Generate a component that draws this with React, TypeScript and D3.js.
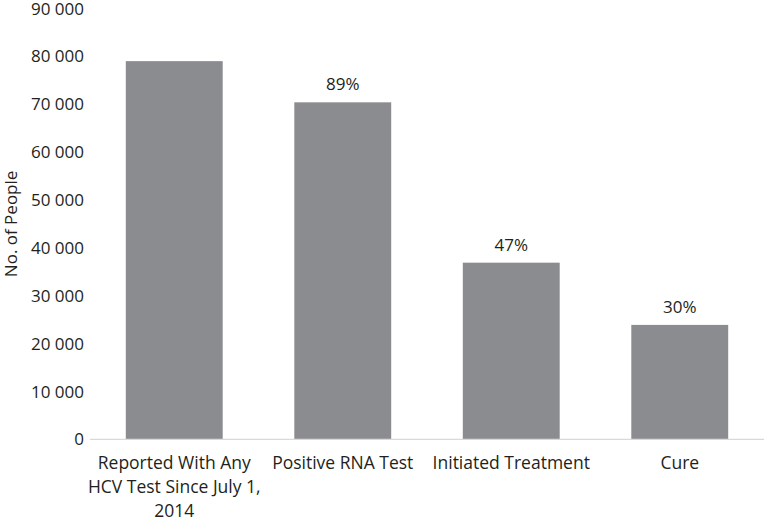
import React from "react";
import * as d3 from "d3";

const categories: string[][] = [
  ["Reported With Any", "HCV Test Since July 1,", "2014"],
  ["Positive RNA Test"],
  ["Initiated Treatment"],
  ["Cure"],
];
const values: number[] = [79000, 70400, 36900, 23900];
const pctLabels: string[] = ["", "89%", "47%", "30%"];
const yTicks: number[] = [0, 10000, 20000, 30000, 40000, 50000, 60000, 70000, 80000, 90000];

const W = 765;
const H = 518;
const FONT = "'Open Sans', sans-serif";

export default function App() {
  const x = d3
    .scaleBand<number>()
    .domain(categories.map((_, i) => i))
    .range([90, 764])
    .paddingInner(0.425)
    .paddingOuter(0.2125);
  const y = d3.scaleLinear().domain([0, 90000]).range([439.3, 8.5]);
  const fmt = (v: number) => d3.format(",")(v).replace(/,/g, " ");

  return (
    <svg
      width={W}
      height={H}
      style={{ position: "absolute", left: 0, top: 0, background: "#fff" }}
      fontFamily={FONT}
    >
      {yTicks.map((t) => (
        <text
          key={t}
          x={84}
          y={y(t)}
          dy="0.36em"
          textAnchor="end"
          fontSize={17}
          fill="#231f20"
        >
          {fmt(t)}
        </text>
      ))}
      <text
        transform={`translate(11.5,${(y(0) + y(90000)) / 2}) rotate(-90)`}
        dy="0.35em"
        textAnchor="middle"
        fontSize={17}
        fill="#231f20"
      >
        No. of People
      </text>
      {values.map((v, i) => (
        <rect
          key={i}
          x={x(i)}
          y={y(v)}
          width={x.bandwidth()}
          height={y(0) - y(v)}
          fill="#8b8c90"
        />
      ))}
      <line x1={90} x2={764} y1={y(0)} y2={y(0)} stroke="#d9d9d9" strokeWidth={1.3} />
      {values.map((v, i) =>
        pctLabels[i] ? (
          <text
            key={"p" + i}
            x={(x(i) as number) + x.bandwidth() / 2}
            y={y(v) - 18}
            dy="0.35em"
            textAnchor="middle"
            fontSize={17}
            fill="#231f20"
          >
            {pctLabels[i]}
          </text>
        ) : null
      )}
      {categories.map((lines, i) => (
        <text
          key={"c" + i}
          textAnchor="middle"
          fontSize={17.5}
          fill="#231f20"
        >
          {lines.map((ln, j) => (
            <tspan
              key={j}
              x={(x(i) as number) + x.bandwidth() / 2}
              y={463 + j * 24}
              dy="0.35em"
            >
              {ln}
            </tspan>
          ))}
        </text>
      ))}
    </svg>
  );
}
